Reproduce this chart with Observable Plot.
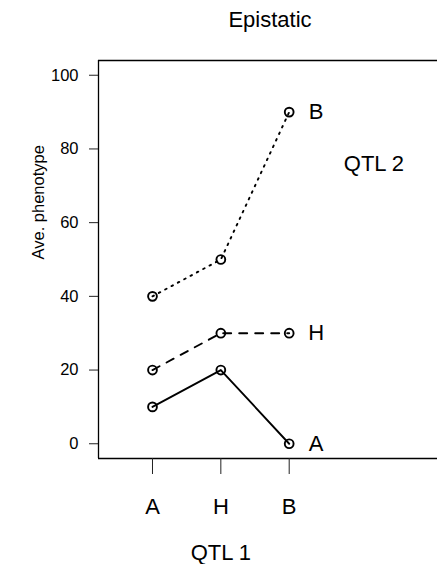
<!DOCTYPE html>
<html><head><meta charset="utf-8">
<script src="https://cdn.jsdelivr.net/npm/d3@7"></script>
<script src="https://cdn.jsdelivr.net/npm/@observablehq/plot@0.6"></script>
<style>body{margin:0;background:#fff}</style>
</head><body><div id="chart"></div>
<script>
const qtl1 = ["A", "H", "B"];
const qtl2 = ["A", "H", "B"];
const valuesA = [10, 20, 0];
const valuesH = [20, 30, 30];
const valuesB = [40, 50, 90];
const yTicks = [0, 20, 40, 60, 80, 100];
const title = "Epistatic";
const xLabel = "QTL 1";
const yLabel = "Ave. phenotype";
const legendTitle = "QTL 2";
const legendPos = [4.24, 76];
const xDomain = [0.21, 5.17];
const yDomain = [-4, 104];
const dashes = ["none", "8 8", "1.6 5.6"];

const series = [valuesA, valuesH, valuesB];
const data = qtl2.flatMap((g, j) => series[j].map((v, i) => ({q1: i + 1, q2: g, v})));
const ends = data.filter(d => d.q1 === qtl1.length);
const xPos = qtl1.map((_, i) => i + 1);

const font = "'Liberation Sans', Arial, Helvetica, sans-serif";
const plot = Plot.plot({
  width: 437, height: 564,
  marginLeft: 98, marginRight: 0, marginTop: 60, marginBottom: 106,
  style: {fontFamily: font, background: "#fff", color: "#000"},
  x: {domain: xDomain, axis: null},
  y: {domain: yDomain, axis: null},
  marks: [
    Plot.ruleY([yDomain[1]], {stroke: "#000", strokeWidth: 1.3}),
    Plot.ruleY([yDomain[0]], {stroke: "#000", strokeWidth: 1.3}),
    Plot.ruleX([xDomain[0]], {stroke: "#000", strokeWidth: 1.3}),
    Plot.axisY(yTicks, {tickSize: 9, tickPadding: 11, fontSize: 16.5, label: null, tickFormat: d => d, stroke: "#222"}),
    Plot.axisX(xPos, {tickSize: 16, tickPadding: 24, fontSize: 22, label: null, tickFormat: i => qtl1[i - 1], stroke: "#222"}),
    ...qtl2.map((g, j) => Plot.line(data.filter(d => d.q2 === g), {
      x: "q1", y: "v", stroke: "#000", strokeWidth: 1.9, strokeDasharray: dashes[j]
    })),
    Plot.dot(data, {x: "q1", y: "v", r: 4.4, stroke: "#000", strokeWidth: 1.9, fill: "none"}),
    Plot.text(ends, {x: "q1", y: "v", text: "q2", dx: 27, fontSize: 22}),
    Plot.text([legendTitle], {x: legendPos[0], y: legendPos[1], fontSize: 22}),
    Plot.text([title], {frameAnchor: "top", lineAnchor: "middle", dy: -40.3, dx: 2, fontSize: 22}),
    Plot.text([xLabel], {x: () => (1 + qtl1.length) / 2, frameAnchor: "bottom", lineAnchor: "middle", dy: 94, fontSize: 22}),
    Plot.text([yLabel], {frameAnchor: "left", lineAnchor: "middle", rotate: -90, dx: -60, fontSize: 16.5})
  ]
});
document.getElementById("chart").append(plot);
</script>
</body></html>
